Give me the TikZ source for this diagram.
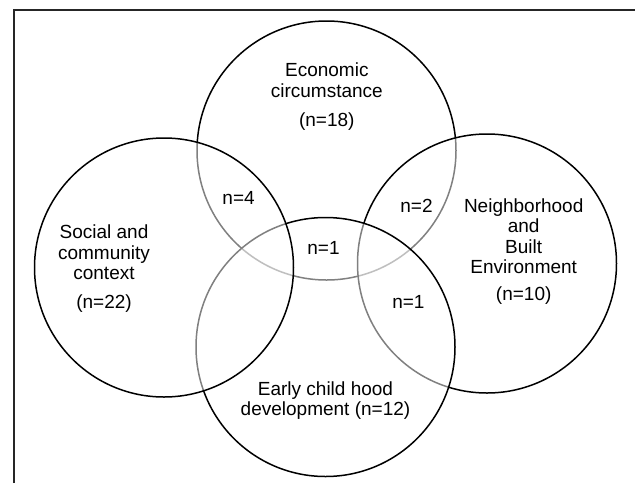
\documentclass[tikz,border=0pt]{standalone}
\usepackage{fontspec}
\setmainfont{Liberation Sans}
\begin{document}
\begin{tikzpicture}[x=1pt,y=-1pt,
  venn/.style={circle, draw=black, line width=1.5pt, fill=white, fill opacity=0.5, minimum size=259pt, inner sep=0pt},
  lbl/.style={align=center, inner sep=0pt, font=\fontsize{19}{20.3}\selectfont},
  frameline/.style={line width=2.2pt, draw=black!85}]
\useasboundingbox (0,0) rectangle (635,483);
\coordinate (fA) at (14,483);
\coordinate (fB) at (14,10);
\coordinate (fC) at (635,10);
\draw[frameline] (fA) -- (fB) -- (fC);
% circles in drawing order
\node[venn] (econ) at (326.5,150.5) {};
\node[venn] (neigh) at (487,263.5) {};
\node[venn] (early) at (325.5,347) {};
\node[venn] (social) at (164,267.5) {};
% labels
\node[lbl] (tecon) at (326.8,96.5) {Economic\\circumstance\\[8.7pt](n=18)};
\node[lbl] (tsocial) at (104,268.5) {Social and\\community\\context\\[8.4pt](n=22)};
\node[lbl] (tneigh) at (523.7,251.5) {Neighborhood\\and\\Built\\Environment\\[6.4pt](n=10)};
\node[lbl] (tearly) at (325.5,400.5) {Early child hood\\development (n=12)};
\node[lbl] (nES) at (238.6,197.5) {n=4};
\node[lbl] (nEN) at (416.5,206) {n=2};
\node[lbl] (nESE) at (323.5,247.5) {n=1};
\node[lbl] (nNE) at (408.4,302) {n=1};
\end{tikzpicture}
\end{document}
